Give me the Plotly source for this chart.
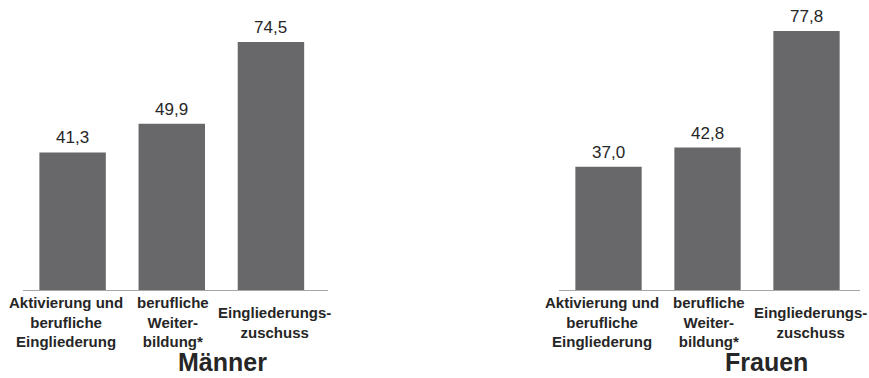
import plotly.graph_objects as go

# Kategorien (mehrzeilige Beschriftungen) und Werte je Geschlecht
categories = ["Aktivierung und<br>berufliche<br>Eingliederung",
              "berufliche<br>Weiter-<br>bildung*",
              "Eingliederungs-<br>zuschuss"]
maenner = [41.3, 49.9, 74.5]
frauen = [37.0, 42.8, 77.8]
panel_titles = ["Männer", "Frauen"]

BAR = "#68686a"
TXT = "#262626"
FONT = "Liberation Sans, Arial, sans-serif"

def fmt(v):
    return f"{v:.1f}".replace(".", ",")

fig = go.Figure()
label_shift = [-7, 1, 4]
panels = [("x", "y", maenner, [0.0265, 0.3774]), ("x2", "y2", frauen, [0.6433, 0.9896])]

annotations = []
for i, (xa, ya, vals, dom) in enumerate(panels):
    xs = list(range(len(categories)))
    fig.add_trace(go.Bar(x=xs, y=vals, xaxis=xa, yaxis=ya, width=0.67,
                         marker=dict(color=BAR, line=dict(width=0)),
                         hoverinfo="skip", showlegend=False))
    for x, v in zip(xs, vals):
        annotations.append(dict(x=x, y=v, xref=xa, yref=ya, text=fmt(v),
                                showarrow=False, xanchor="center", yanchor="bottom", yshift=3,
                                font=dict(family=FONT, size=17, color=TXT)))
    for x, c in enumerate(categories):
        annotations.append(dict(x=x, y=0.148, xref=xa, yref="paper", text=f"<b>{c}</b>",
                                showarrow=False, xanchor="center", yanchor="middle",
                                xshift=label_shift[x],
                                font=dict(family=FONT, size=15, color=TXT)))
    annotations.append(dict(x=[0.2555, 0.8826][i], y=0.0, xref="paper", yref="paper",
                            text=f"<b>{panel_titles[i]}</b>", showarrow=False,
                            xanchor="center", yanchor="bottom",
                            font=dict(family=FONT, size=25, color=TXT)))

axis_common = dict(showgrid=False, zeroline=False, showticklabels=False, ticks="")
fig.update_layout(
    width=869, height=378,
    margin=dict(l=0, r=0, t=0, b=0),
    paper_bgcolor="white", plot_bgcolor="white",
    xaxis=dict(domain=panels[0][3], range=[-0.5, 2.575], showline=True,
               linecolor="#a6a6a6", linewidth=1, anchor="y", **axis_common),
    xaxis2=dict(domain=panels[1][3], range=[-0.5, 2.54], showline=True,
                linecolor="#a6a6a6", linewidth=1, anchor="y2", **axis_common),
    yaxis=dict(domain=[0.2328, 0.9815], range=[0, 85], anchor="x", showline=False, **axis_common),
    yaxis2=dict(domain=[0.2328, 0.9815], range=[0, 85], anchor="x2", showline=False, **axis_common),
    annotations=annotations,
)

fig.write_html("out.html")
